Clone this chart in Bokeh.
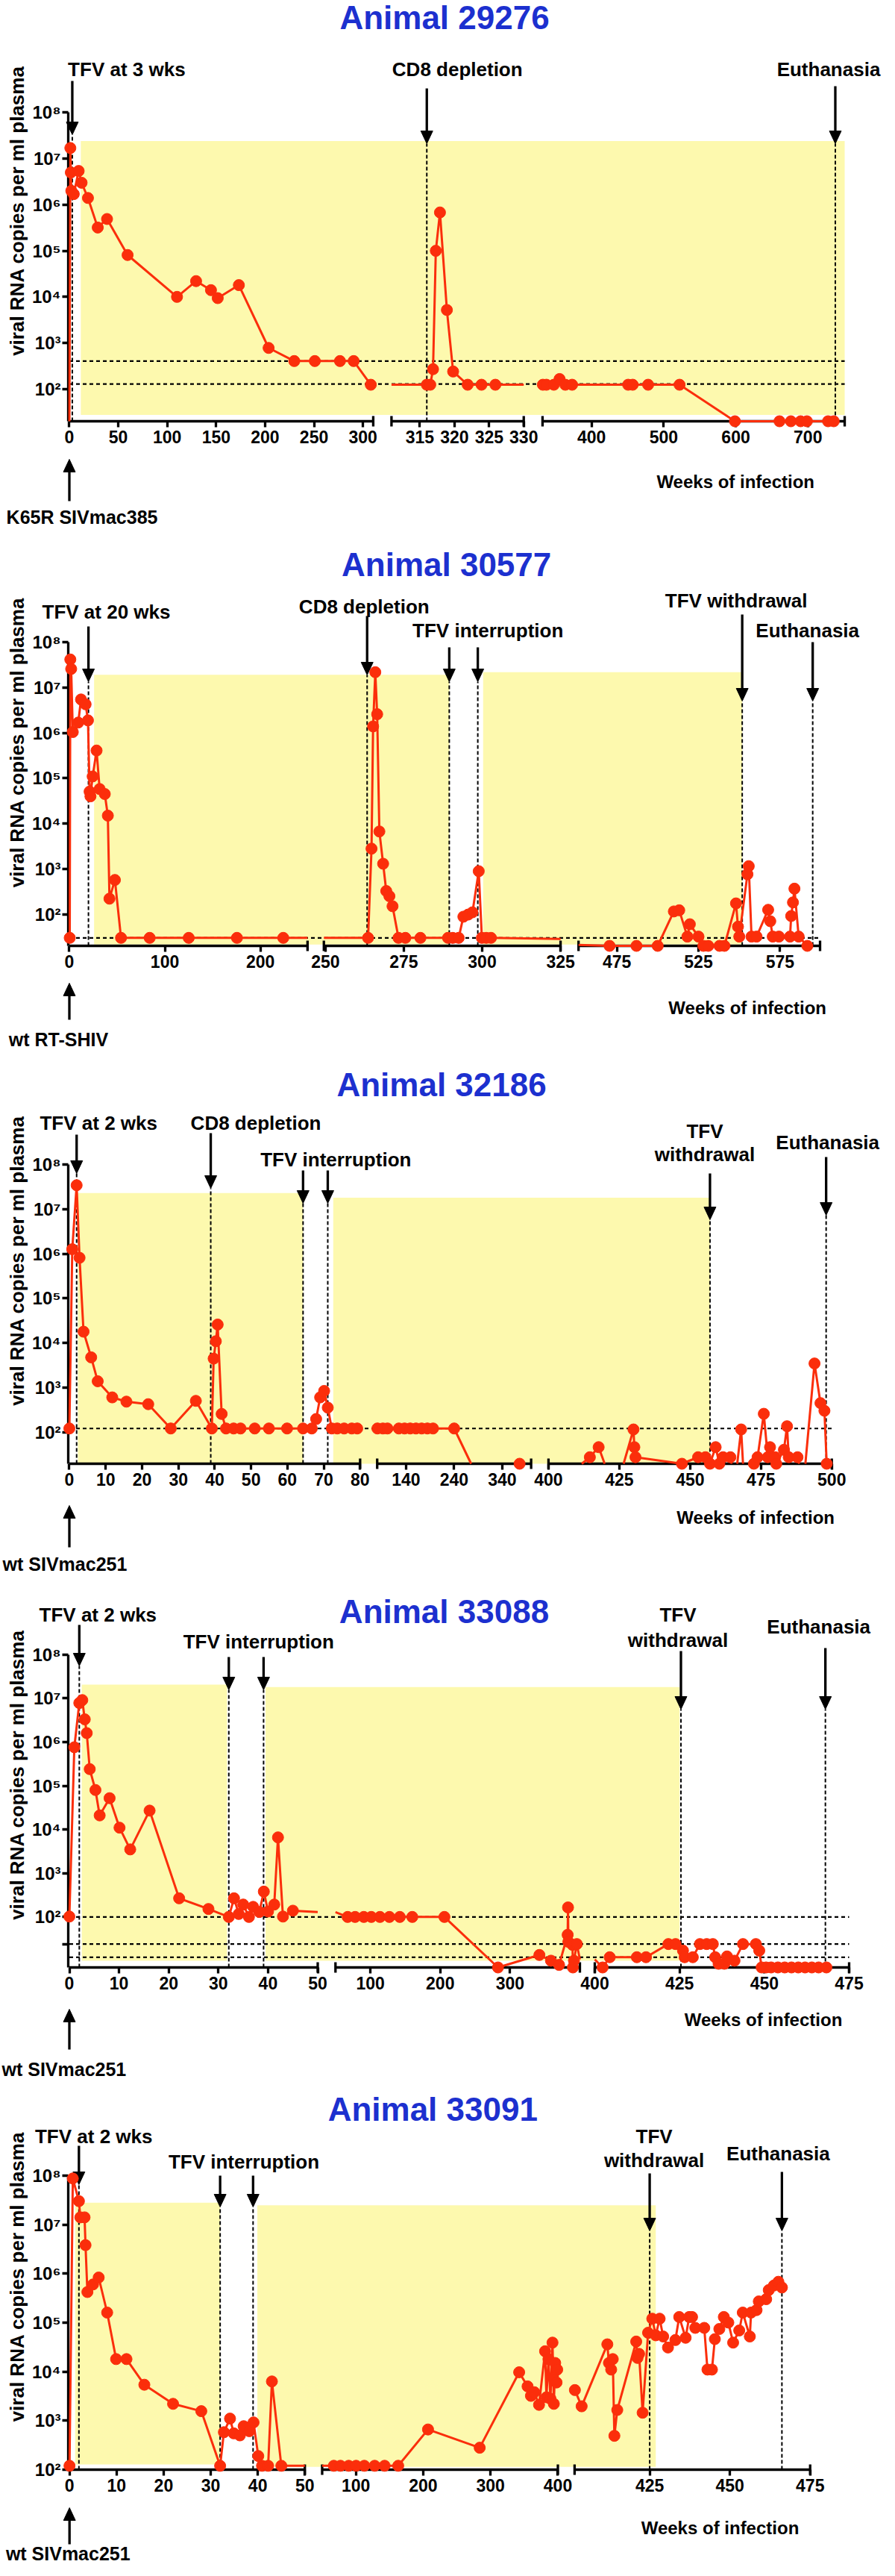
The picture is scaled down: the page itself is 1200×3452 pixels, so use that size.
import math
from bokeh.plotting import figure
from bokeh.models import Range1d, FixedTicker
from bokeh.core.properties import value
from bokeh.layouts import column
from bokeh.embed import file_html
from bokeh.resources import INLINE

# ------------------------------------------------------------------ data
titles = ["Animal 29276", "Animal 30577", "Animal 32186", "Animal 33088", "Animal 33091"]
strains = ["K65R SIVmac385", "wt  RT-SHIV", "wt  SIVmac251", "wt  SIVmac251", "wt  SIVmac251"]
x_axis_title = "Weeks of infection"
y_axis_title = "viral RNA copies per ml plasma"
y_tick_values = [1e2, 1e3, 1e4, 1e5, 1e6, 1e7, 1e8]
y_tick_labels = ["10\u00b2", "10\u00b3", "10\u2074", "10\u2075", "10\u2076", "10\u2077", "10\u2078"]

# Animal 29276
a1_weeks = [0, 1, 1.5, 2, 4.5, 9.5, 12.5, 19, 29, 38.5, 59.5, 110, 129.5, 144.7, 151.6, 173.2,
            203.6, 229.8, 250.8, 276.5, 290.5, 308, 316, 316.5, 316.9, 317.3, 317.9, 318.9, 319.8,
            321.9, 323.9, 325.9, 332.5, 337.4, 347.7, 355.6, 363.6, 373, 450.7, 457, 478.4, 522,
            598.8, 660.6, 676.4, 689.9, 698.6, 727.9, 735.8]
a1_copies = [10, 1.7e7, 5e6, 2e6, 1.7e6, 5.4e6, 3e6, 1.4e6, 3.2e5, 4.9e5, 8.1e4, 1e4, 2.2e4, 1.4e4,
             9.4e3, 1.8e4, 780, 405, 405, 405, 405, 124, 124, 124, 270, 1e5, 6.8e5, 5.2e3, 240,
             124, 124, 124, 124, 124, 124, 165, 124, 124, 124, 124, 124, 124, 20, 20, 20, 20, 20, 20, 20]
a1_breaks = [(0, 310.5), (310.9, 330), (332, 751)]
a1_xticks = [[0, 50, 100, 150, 200, 250, 300], [315, 320, 325, 330], [400, 500, 600, 700]]
a1_axis_min = 20
a1_limits = [405, 128]
a1_tfv = [(11.7, 751)]
a1_events = [(["TFV at 3 wks"], [3]), (["CD8 depletion"], [316]), (["Euthanasia"], [738])]

# Animal 30577
a2_weeks = [0.4, 1.0, 1.9, 3.6, 9.3, 12.2, 17, 19.5, 21.2, 22.1, 24.4, 28.5, 31.7, 37.1, 40.3, 42,
            47.7, 54.1, 84.1, 125, 175.5, 224, 263.6, 264.7, 265.2, 265.9, 266.5, 267.2, 268.4,
            269.4, 270.4, 271.4, 273.3, 275.5, 280.3, 289.1, 290.6, 292.5, 294, 295.5, 296.9,
            298.9, 299.9, 301.3, 302.8, 470.5, 487, 500, 509.9, 513.2, 518.2, 519.7, 525, 528,
            531, 537.9, 540.9, 548, 549.2, 550, 555, 555.8, 557.5, 560.6, 567.7, 569, 570.5,
            574.3, 581.1, 581.8, 582.9, 583.8, 586.4, 591.7]
a2_copies = [30, 4.2e7, 2.6e7, 1.05e6, 1.7e6, 5.5e6, 4.3e6, 1.9e6, 5.1e4, 4e4, 1.1e5, 4.1e5, 5.8e4,
             4.5e4, 1.5e4, 220, 570, 30, 30, 30, 30, 30, 30, 2.8e3, 1.4e6, 2.2e7, 2.6e6, 6.7e3,
             1.3e3, 325, 250, 150, 30, 30, 30, 30, 30, 30, 88, 98, 110, 890, 30, 30, 30, 20, 20,
             20, 115, 122, 32, 60, 32, 20, 20, 20, 20, 173, 53, 32, 760, 1150, 32, 32, 125, 70,
             32, 32, 32, 91, 182, 366, 32, 20]
a2_breaks = [(0, 249.4), (249.5, 325), (451.5, 599.5)]
a2_xticks = [[0, 100, 200], [250, 275, 300, 325], [475, 525, 575]]
a2_axis_min = 20
a2_limits = [30]
a2_tfv = [(25.9, 289.5), (300.3, 551.8)]
a2_events = [(["TFV at 20 wks"], [20]), (["CD8 depletion"], [263.3]),
             (["TFV interruption"], [289.5, 298.6]), (["TFV withdrawal"], [551.8]),
             (["Euthanasia"], [595])]

# Animal 32186
a3_weeks = [0, 0.8, 2.0, 2.8, 3.9, 6.0, 7.8, 11.8, 15.7, 21.7, 27.9, 34.8, 39.2, 39.7, 40.3, 40.8,
            41.9, 43.1, 45.2, 47.1, 51, 54.9, 59.9, 64.3, 66.7, 67.9, 69, 70.1, 71.1, 72.2, 73.7,
            75.6, 77.7, 79.2, 80.5, 91.9, 101.3, 125, 136.9, 148.7, 160.6, 172.4, 184.3, 196.1,
            240, 293, 376, 404, 414.6, 417.7, 422.1, 424.7, 430, 430.3, 430.7, 447.1, 452.8,
            455.4, 457, 459, 460.3, 461.6, 464.2, 465.9, 468, 469, 472.5, 473.8, 476, 477.4,
            478.2, 480, 480.4, 483.1, 484.2, 484.8, 487.9, 490.1, 493.9, 496, 497.4, 498.2]
a3_copies = [123, 1.26e6, 3.4e7, 8.1e5, 1.8e4, 4.8e3, 1.4e3, 610, 490, 430, 123, 510, 123, 4.5e3,
             1.1e4, 2.6e4, 260, 123, 123, 123, 123, 123, 123, 123, 123, 200, 610, 850, 360, 123,
             123, 123, 123, 123, 123, 123, 123, 123, 123, 123, 123, 123, 123, 123, 123, 8, 20,
             8, 28, 47, 8, 8, 117, 47, 28, 20, 28, 28, 20, 47, 20, 28, 28, 8, 117, 8, 20, 28,
             262, 28, 47, 28, 20, 41, 138, 28, 28, 8, 3500, 455, 306, 20]
a3_breaks = [(0, 80), (80, 400), (400, 500)]
a3_xticks = [[0, 10, 20, 30, 40, 50, 60, 70, 80], [140, 240, 340], [400, 425, 450, 475, 500]]
a3_axis_min = 20
a3_limits = [123]
a3_tfv = [(2.35, 64.3), (72.6, 457)]
a3_events = [(["TFV at 2 wks"], [2]), (["CD8 depletion"], [38.9]),
             (["TFV interruption"], [64.3, 71.1]), (["TFV", "withdrawal"], [457]),
             (["Euthanasia"], [498])]

# Animal 33088
a4_weeks = [0, 1, 2, 2.6, 3.1, 3.5, 4.1, 5.25, 6.1, 8.1, 10.1, 12.25, 16.15, 22.1, 28, 32.1,
            33.15, 34.1, 35, 36.15, 37, 38.25, 39.15, 40, 41.25, 42, 43, 45, 67.4, 78.1, 90.6,
            101.3, 113.7, 127.2, 142.1, 160, 206, 282.7, 342, 358.6, 370.2, 382.5, 383, 383.5,
            389.4, 390, 391.5, 395.6, 402.3, 404.4, 412.4, 415.1, 421.7, 423.8, 426, 426.5,
            428.9, 431, 433, 434.8, 435.5, 436.5, 438.2, 439, 441.2, 443.7, 447.5, 448.5, 449.2,
            450.5, 452, 454, 456, 458, 460, 462, 464, 466, 468.3]
a4_copies = [102, 7.6e5, 7.8e6, 9.1e6, 3.3e6, 1.6e6, 2.4e5, 8e4, 2.1e4, 5.2e4, 1.1e4, 3.5e3,
             2.7e4, 267, 152, 100, 267, 117, 192, 100, 170, 130, 380, 133, 192, 6.6e3, 102, 139,
             100, 100, 100, 100, 100, 100, 100, 100, 100, 7, 13.5, 10, 8, 39, 165, 27, 23, 7, 10,
             24, 7, 12, 12, 12, 24, 24, 17, 12, 12, 24, 24, 24, 12, 8.5, 8.5, 12.5, 10, 24, 24,
             17, 7, 7, 7, 7, 7, 7, 7, 7, 7, 7, 7]
a4_breaks = [(0, 50), (50, 400), (400, 475)]
a4_xticks = [[0, 10, 20, 30, 40, 50], [100, 200, 300], [400, 425, 450, 475]]
a4_axis_min = 7
a4_limits = [100, 24, 12]
a4_tfv = [(2.5, 31.75), (39.5, 425)]
a4_events = [(["TFV at 2 wks"], [2]), (["TFV interruption"], [32.1, 39.1]),
             (["TFV", "withdrawal"], [425.4]), (["Euthanasia"], [468])]

# Animal 33091
a5_weeks = [0, 0.7, 2.0, 2.3, 3.2, 3.4, 3.8, 5.0, 6.2, 8.0, 9.9, 12.1, 15.9, 22, 28, 32, 32.8,
            34.1, 34.9, 36.2, 37, 38.2, 39.1, 40.1, 40.9, 42.2, 43, 45, 67.3, 77.2, 89.4, 100.4,
            112.6, 128, 142.7, 162.9, 207.2, 283.9, 342.5, 355, 360, 365, 372, 381, 383, 386,
            389, 392, 394, 396, 398, 399, 401.7, 403.8, 411.8, 412.3, 413, 413.5, 414, 414.9,
            420.8, 421.2, 421.7, 422.8, 424.5, 425.8, 426.9, 428.1, 429.2, 430.7, 433, 434.2,
            436.2, 437.3, 438.2, 439.2, 442, 443, 444.4, 445.3, 446.7, 448.1, 449.5, 451, 452.9,
            454, 456.2, 456.6, 458.3, 459, 461.3, 462.1, 463.7, 465.1, 466.2]
a5_copies = [120, 8.7e7, 3e7, 1.4e7, 1.4e7, 3.8e6, 4.2e5, 6e5, 8.3e5, 1.6e5, 1.8e4, 1.8e4, 5.4e3,
             2.2e3, 1.56e3, 120, 580, 1.1e3, 550, 500, 770, 610, 920, 190, 120, 120, 6.3e3, 120,
             120, 120, 120, 120, 120, 120, 120, 120, 660, 280, 9.7e3, 5e3, 3.2e3, 3.8e3, 2.1e3,
             2.6e4, 3e3, 1.8e4, 2.8e3, 3.9e4, 2.2e3, 1.5e4, 6e3, 1.1e4, 4.2e3, 1.96e3, 3.6e4,
             1.5e4, 1.1e4, 1.8e4, 490, 1.65e3, 4.1e4, 1.9e4, 2.3e4, 1.45e3, 6.2e4, 1.2e5, 5.5e4,
             1.2e5, 5.2e4, 3.1e4, 4.4e4, 1.3e5, 4.9e4, 1.3e5, 1.3e5, 7.8e4, 7.8e4, 1.1e4, 1.1e4,
             4.6e4, 7.4e4, 1.3e5, 1e5, 3.9e4, 6.9e4, 1.6e5, 5.2e4, 1.6e5, 1.8e5, 2.7e5, 3e5,
             4.6e5, 5.7e5, 6.8e5, 5.2e5]
a5_breaks = [(0, 50), (50, 400), (401.6, 475)]
a5_xticks = [[0, 10, 20, 30, 40, 50], [100, 200, 300, 400], [425, 450, 475]]
a5_axis_min = 100
a5_limits = []
a5_tfv = [(1.2, 32), (39.9, 426.9)]
a5_events = [(["TFV at 2 wks"], [2]), (["TFV interruption"], [32, 39]),
             (["TFV", "withdrawal"], [425]), (["Euthanasia"], [466.2])]

animals = [
    dict(weeks=a1_weeks, copies=a1_copies, breaks=a1_breaks, xticks=a1_xticks, ymin=a1_axis_min,
         limits=a1_limits, tfv=a1_tfv, events=a1_events, extra_yticks=[]),
    dict(weeks=a2_weeks, copies=a2_copies, breaks=a2_breaks, xticks=a2_xticks, ymin=a2_axis_min,
         limits=a2_limits, tfv=a2_tfv, events=a2_events, extra_yticks=[]),
    dict(weeks=a3_weeks, copies=a3_copies, breaks=a3_breaks, xticks=a3_xticks, ymin=a3_axis_min,
         limits=a3_limits, tfv=a3_tfv, events=a3_events, extra_yticks=[]),
    dict(weeks=a4_weeks, copies=a4_copies, breaks=a4_breaks, xticks=a4_xticks, ymin=a4_axis_min,
         limits=a4_limits, tfv=a4_tfv, events=a4_events, extra_yticks=[24]),
    dict(weeks=a5_weeks, copies=a5_copies, breaks=a5_breaks, xticks=a5_xticks, ymin=a5_axis_min,
         limits=a5_limits, tfv=a5_tfv, events=a5_events, extra_yticks=[]),
]

# ------------------------------------------------------------------ layout (page pixels)
FONT = "Liberation Sans"
RED = "#fb2e0b"
YELLOW = "#fdf9ae"
BLUE = "#1c30cf"
PAGE_W = 1184

geo = [
    dict(top=8, height=722, y8=158.5, dec=61.75,
         seg_px=[(99.5, 507.3), (531.8, 709.3), (734.5, 1140)],
         title_xy=(603, 31), bands=[(196.4, 563.4)],
         ev=[(73, [100], 116, 188), (41, [100], 126, 200), (-9, [100], 123, 200)],
         weeks_xy=(993.5, 653), up=(679, 623), strain_xy=(15, 700)),
    dict(top=730, height=695, y8=868.5, dec=60.7,
         seg_px=[(96.5, 417), (439, 757.5), (781.7, 1106.7)],
         title_xy=(604, 764), bands=[(911.7, 1273.3), (908.3, 1273.3)],
         ev=[(24, [827], 847, 921), (-4, [820], 833, 912), (52, [852], 875, 921),
             (-8, [812], 831, 947), (-7, [852], 868, 947)],
         weeks_xy=(1009, 1358), up=(1374, 1325), strain_xy=(15, 1400)),
    dict(top=1425, height=703, y8=1567.4, dec=59.9,
         seg_px=[(99.5, 489.7), (512.6, 719.2), (742.5, 1122.7)],
         title_xy=(599, 1461), bands=[(1606.3, 1970.5), (1612.5, 1970.5)],
         ev=[(29.5, [1512], 1528, 1580), (60.5, [1512], 1526, 1600), (44, [1561], 1576, 1620),
             (-7, [1523, 1554], 1580, 1642), (2, [1538], 1558, 1636)],
         weeks_xy=(1020.5, 2041), up=(2081, 2025), strain_xy=(10, 2103)),
    dict(top=2128, height=672, y8=2225, dec=58.6,
         seg_px=[(100.5, 433.5), (457.3, 785), (805, 1146)],
         title_xy=(603, 2167), bands=[(2265, 2635), (2268.3, 2635)],
         ev=[(25, [2171], 2185, 2240), (40, [2207], 2228, 2272),
             (-4, [2171, 2205], 2220, 2298), (-9, [2187], 2216, 2298)],
         weeks_xy=(1031, 2714), up=(2754, 2700), strain_xy=(10, 2780)),
    dict(top=2800, height=644, y8=2922.7, dec=65.7,
         seg_px=[(95.7, 412.7), (436, 753.5), (776, 1093.3)],
         title_xy=(585, 2834), bands=[(2959.3, 3310), (2962.7, 3313.3)],
         ev=[(20, [2870], 2883, 2935), (32, [2904], 2923, 2965),
             (6, [2870, 2902], 2920, 2997), (-5, [2893], 2918, 2997)],
         weeks_xy=(972, 3395), up=(3417, 3368), strain_xy=(10, 3429)),
]


def clip(w0, L0, w1, L1, wlo, whi, Lmin):
    dx, dy = w1 - w0, L1 - L0
    t0, t1 = 0.0, 1.0
    for p, q in ((-dx, w0 - wlo), (dx, whi - w0), (-dy, L0 - Lmin)):
        if p == 0:
            if q < -1e-12:
                return None
        else:
            t = q / p
            if p < 0:
                if t > t1:
                    return None
                t0 = max(t0, t)
            else:
                if t < t0:
                    return None
                t1 = min(t1, t)
    if t1 < t0:
        return None
    return (w0 + t0 * dx, L0 + t0 * dy, w0 + t1 * dx, L0 + t1 * dy)


HEAD_LEN = 17   # arrow head length (px)
HEAD_HW = 8     # arrow head half width (px)


def build(a, g, title, strain):
    breaks, seg_px = a["breaks"], g["seg_px"]
    top, H, dec = g["top"], g["height"], g["dec"]
    ymin = a["ymin"]
    Lmin = math.log10(ymin)
    X0 = seg_px[0][0]
    mbl = int(math.floor(X0 - 8)) - 1
    axis_ref = g["y8"] + (8 - Lmin) * dec
    mbb = int(round(top + H - axis_ref))
    axis_py = top + H - mbb

    def val(py):
        return 10 ** (Lmin + (axis_py - py) / dec)

    def xmap(w, allow_gap=True):
        for (wl, wh), (pl, ph) in zip(breaks, seg_px):
            if wl - 1e-9 <= w <= wh + 1e-9:
                return pl + (w - wl) * (ph - pl) / (wh - wl)
        if allow_gap:
            for i in range(len(breaks) - 1):
                if breaks[i][1] < w < breaks[i + 1][0]:
                    f = (w - breaks[i][1]) / (breaks[i + 1][0] - breaks[i][1])
                    return seg_px[i][1] + f * (seg_px[i + 1][0] - seg_px[i][1])
        return None

    p = figure(width=PAGE_W, height=H, x_range=Range1d(8 + mbl, 8 + PAGE_W),
               y_range=Range1d(ymin, val(top)), y_axis_type="log",
               output_backend="svg", toolbar_location=None, title_location=None)
    p.min_border_left = mbl
    p.min_border_right = 0
    p.min_border_top = 0
    p.min_border_bottom = mbb
    p.outline_line_color = None
    p.background_fill_color = "white"
    p.border_fill_color = "white"
    p.xgrid.grid_line_color = None
    p.ygrid.grid_line_color = None

    def text(x, py, s, size, align="center", color="black"):
        p.text(x=[x], y=[val(py)], text=[s], text_font=value(FONT), text_font_size=value(size),
               text_font_style=value("bold"), text_align=value(align),
               text_baseline=value("middle"), text_color=color, level="overlay")

    def arrow(x, py_from, py_tip):
        sgn = 1 if py_tip > py_from else -1
        base = py_tip - sgn * HEAD_LEN
        p.segment(x0=[x], x1=[x], y0=[val(py_from)], y1=[val(base + sgn * 2)],
                  line_color="black", line_width=3.3, level="overlay")
        p.patch(x=[x - HEAD_HW, x + HEAD_HW, x], y=[val(base), val(base), val(py_tip)],
                fill_color="black", line_color="black", line_width=1, level="overlay")

    # treatment (TFV) periods
    p.quad(left=[xmap(s) for s, e in a["tfv"]], right=[xmap(e) for s, e in a["tfv"]],
           top=[val(b[0]) for b in g["bands"]], bottom=[val(b[1]) for b in g["bands"]],
           fill_color=YELLOW, line_color=None)

    # detection limit lines
    x_end = seg_px[-1][1]
    if a["limits"]:
        n = len(a["limits"])
        p.segment(x0=[X0] * n, x1=[x_end] * n, y0=a["limits"], y1=a["limits"],
                  line_color="black", line_width=2.2, line_dash="5 4")

    # event dashed lines, arrows and labels
    for (lines, wks), (dx, ys, a_top, a_tip) in zip(a["events"], g["ev"]):
        xs = [xmap(w) for w in wks]
        p.segment(x0=xs, x1=xs, y0=[ymin] * len(xs), y1=[val(a_tip)] * len(xs),
                  line_color="black", line_width=2, line_dash="5 3")
        for x in xs:
            arrow(x, a_top, a_tip)
        for s, yy in zip(lines, ys):
            text(xs[0] + dx, yy, s, "26px")

    # broken x axis line with end caps
    p.segment(x0=[s[0] for s in seg_px], x1=[s[1] for s in seg_px],
              y0=[ymin] * len(seg_px), y1=[ymin] * len(seg_px),
              line_color="black", line_width=3.3, level="overlay")
    caps = [s[1] for s in seg_px] + [s[0] for s in seg_px[1:]]
    p.segment(x0=caps, x1=caps, y0=[val(axis_py + 7)] * len(caps),
              y1=[val(axis_py - 7)] * len(caps), line_color="black", line_width=3.3,
              level="overlay")

    # viral load line, clipped to each axis segment
    wk, cp = a["weeks"], a["copies"]
    Ls = [math.log10(c) for c in cp]
    mxs, mys = [], []
    for (wl, wh), (pl, ph) in zip(breaks, seg_px):
        k = (ph - pl) / (wh - wl)
        cur_x, cur_y, last = [], [], None
        for i in range(len(wk) - 1):
            c = clip(wk[i], Ls[i], wk[i + 1], Ls[i + 1], wl, wh, Lmin)
            if c is None:
                continue
            aw, aL, bw, bL = c
            ax, bx = pl + (aw - wl) * k, pl + (bw - wl) * k
            if last is not None and abs(last[0] - aw) < 1e-9 and abs(last[1] - aL) < 1e-9:
                cur_x.append(bx)
                cur_y.append(10 ** bL)
            else:
                if cur_x:
                    mxs.append(cur_x)
                    mys.append(cur_y)
                cur_x, cur_y = [ax, bx], [10 ** aL, 10 ** bL]
            last = (bw, bL)
        if cur_x:
            mxs.append(cur_x)
            mys.append(cur_y)
    p.multi_line(xs=mxs, ys=mys, line_color=RED, line_width=3, line_join="round", level="overlay")

    px_, py_ = [], []
    for w, c, L in zip(wk, cp, Ls):
        if L < Lmin - 1e-9:
            continue
        x = xmap(w, allow_gap=False)
        if x is None:
            continue
        px_.append(x)
        py_.append(c)
    p.scatter(x=px_, y=py_, size=15, fill_color=RED, line_color=RED, marker="circle",
              level="overlay")

    # axes
    tick_pos, tick_lab = [], []
    for (wl, wh), (pl, ph), tl in zip(breaks, seg_px, a["xticks"]):
        for t in tl:
            tick_pos.append(round(pl + (t - wl) * (ph - pl) / (wh - wl), 3))
            tick_lab.append(str(t))
    xa = p.xaxis[0]
    xa.ticker = FixedTicker(ticks=tick_pos)
    xa.major_label_overrides = {t: l for t, l in zip(tick_pos, tick_lab)}
    xa.axis_line_color = None
    xa.major_tick_in = 0
    xa.major_tick_out = 8
    xa.major_tick_line_width = 3.3
    xa.minor_tick_line_color = None
    xa.major_label_standoff = 4
    xa.major_label_text_font = FONT
    xa.major_label_text_font_size = "23px"
    xa.major_label_text_font_style = "bold"
    xa.major_label_text_color = "black"

    ya = p.yaxis[0]
    ya.ticker = FixedTicker(ticks=list(y_tick_values) + list(a["extra_yticks"]))
    ov = {v: l for v, l in zip(y_tick_values, y_tick_labels)}
    for v in a["extra_yticks"]:
        ov[v] = ""
    ya.major_label_overrides = ov
    ya.bounds = (ymin, 1e8)
    ya.axis_line_width = 3.3
    ya.major_tick_in = 0
    ya.major_tick_out = 8
    ya.major_tick_line_width = 3.3
    ya.minor_tick_line_color = None
    ya.major_label_standoff = 2
    ya.major_label_text_font = FONT
    ya.major_label_text_font_size = "24px"
    ya.major_label_text_font_style = "bold"
    ya.major_label_text_color = "black"
    ya.axis_label = y_axis_title
    ya.axis_label_text_font = FONT
    ya.axis_label_text_font_size = "26px"
    ya.axis_label_text_font_style = "bold"
    ya.axis_label_text_color = "black"
    ya.axis_label_standoff = 2

    # texts and the infection arrow
    text(g["title_xy"][0], g["title_xy"][1], title, "44px", color=BLUE)
    text(g["weeks_xy"][0], g["weeks_xy"][1], x_axis_title, "24px")
    arrow(X0, g["up"][0], g["up"][1])
    text(g["strain_xy"][0], g["strain_xy"][1], strain, "25px", align="left")
    return p


figs = [build(a, g, t, s) for a, g, t, s in zip(animals, geo, titles, strains)]
layout = column(*figs, spacing=0)
open("out.html", "w").write(file_html(layout, INLINE, "Viral load"))
